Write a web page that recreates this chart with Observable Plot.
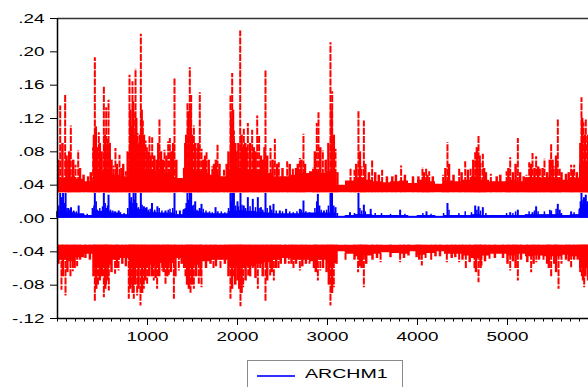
<!DOCTYPE html>
<html><head><meta charset="utf-8">
<script src="https://cdn.jsdelivr.net/npm/d3@7"></script>
<script src="https://cdn.jsdelivr.net/npm/@observablehq/plot@0.6"></script>
<style>
body{margin:0;background:#fff;font-family:"Liberation Sans",Arial,sans-serif;}
#chart{position:relative;width:588px;height:387px;overflow:hidden;background:#fff;}
#chart svg{display:block;}
.legend{position:absolute;left:247px;top:360px;width:156px;height:40px;border:1px solid #8a8a8a;box-sizing:border-box;background:#fff;}
.legend .ln{position:absolute;left:9px;top:14px;width:38px;height:1.5px;background:#3030ff;}
.legend .tx{position:absolute;left:57px;top:5px;font-size:13.5px;color:#000;transform:scaleX(1.45);transform-origin:left center;white-space:nowrap;}
</style></head><body><div id="chart"></div><script>
// observation bins (start of each 100-observation block)
const binStarts = d3.range(0, 5900, 100);
// dense-fill level of each series per 100-observation block
const upperBase = [.048,.05,.047,.044,.056,.056,.052,.05,.06,.058,.056,.054,.054,.048,.06,.056,.054,.052,.05,.058,.06,.058,.056,.054,.05,.05,.052,.054,.056,.054,.056,.04,.045,.048,.046,.044,.043,.044,.045,.042,.046,.044,.041,.045,.044,.046,.05,.046,.044,.044,.046,.044,.049,.048,.049,.048,.046,.048,.065];
const lowerBase = [-.05,-.052,-.047,-.043,-.056,-.056,-.05,-.048,-.06,-.06,-.056,-.054,-.054,-.048,-.06,-.056,-.052,-.05,-.05,-.058,-.06,-.058,-.055,-.053,-.05,-.048,-.05,-.05,-.052,-.05,-.054,-.04,-.043,-.046,-.045,-.043,-.041,-.042,-.043,-.04,-.044,-.042,-.04,-.043,-.043,-.045,-.048,-.045,-.043,-.043,-.045,-.043,-.046,-.045,-.046,-.046,-.044,-.046,-.06];
const blueBase = [.008,.007,.005,.003,.008,.008,.006,.004,.011,.01,.007,.006,.006,.004,.01,.008,.006,.005,.005,.008,.009,.008,.007,.006,.005,.005,.005,.006,.006,.006,.006,.002,.003,.004,.004,.003,.003,.003,.003,.002,.003,.003,.002,.003,.003,.003,.004,.003,.003,.003,.003,.003,.004,.004,.004,.004,.003,.004,.011];
// floors of the bands
const upperFloor = 0.031, lowerFloor = -0.032, blueFloor = 0.0008;
// prominent spikes [observation, value]
const upperSpikes = [[30,.135],[85,.149],[118,.069],[148,.111],[200,.064],[230,.081],[396,.085],[415,.193],[459,.103],[515,.158],[541,.133],[567,.142],[622,.063],[644,.084],[689,.076],[760,.056],[800,.172],[833,.164],[848,.127],[867,.179],[889,.102],[926,.221],[948,.117],[978,.093],[1022,.098],[1052,.097],[1133,.119],[1189,.082],[1230,.092],[1248,.096],[1300,.169],[1404,.061],[1444,.139],[1460,.13],[1470,.181],[1485,.149],[1515,.111],[1552,.084],[1581,.151],[1600,.083],[1656,.079],[1720,.062],[1778,.088],[1850,.058],[1922,.147],[1941,.174],[1960,.105],[2030,.225],[2070,.107],[2115,.114],[2163,.106],[2219,.123],[2240,.10],[2311,.177],[2367,.084],[2415,.095],[2459,.067],[2552,.068],[2615,.059],[2693,.072],[2733,.101],[2840,.061],[2881,.114],[2900,.127],[2948,.081],[3033,.211],[3052,.152],[3089,.083],[3256,.059],[3300,.058],[3344,.128],[3378,.062],[3404,.117],[3496,.070],[3607,.058],[3818,.063],[4055,.061],[4096,.060],[4130,.056],[4285,.052],[4333,.091],[4463,.059],[4530,.068],[4590,.06],[4641,.080],[4678,.100],[4700,.066],[4726,.077],[4815,.053],[4990,.056],[5030,.073],[5115,.096],[5211,.052],[5241,.067],[5278,.078],[5318,.074],[5360,.059],[5411,.071],[5485,.090],[5515,.062],[5559,.119],[5580,.06],[5707,.064],[5741,.064],[5800,.051],[5822,.145],[5844,.115],[5870,.119],[5885,.09]];
// smaller spikes that make up the ragged texture [observation, value]
const upperTexture = [[10,.07],[55,.09],[100,.075],[130,.08],[175,.07],[250,.06],[290,.052],[340,.05],[370,.055],[405,.1],[425,.11],[440,.085],[470,.09],[490,.08],[525,.1],[555,.095],[580,.09],[600,.07],[660,.065],[710,.06],[730,.065],[780,.08],[810,.13],[820,.11],[840,.14],[858,.1],[875,.12],[900,.09],[915,.1],[935,.13],[960,.1],[990,.085],[1010,.08],[1035,.075],[1075,.075],[1100,.07],[1120,.09],[1150,.08],[1170,.07],[1210,.075],[1265,.08],[1285,.09],[1320,.07],[1420,.09],[1430,.1],[1455,.12],[1478,.13],[1495,.1],[1530,.09],[1565,.09],[1620,.07],[1640,.075],[1680,.07],[1740,.065],[1760,.07],[1800,.065],[1880,.065],[1900,.08],[1930,.12],[1950,.13],[1975,.09],[1990,.08],[2010,.09],[2045,.1],[2060,.085],[2085,.09],[2100,.085],[2140,.09],[2180,.085],[2200,.08],[2260,.075],[2280,.07],[2300,.085],[2330,.075],[2390,.07],[2440,.065],[2500,.06],[2580,.065],[2650,.06],[2670,.065],[2710,.07],[2750,.065],[2860,.08],[2920,.085],[2980,.07],[3010,.09],[3045,.13],[3070,.1],[3110,.055],[3320,.065],[3360,.08],[3420,.065],[3460,.055],[3530,.055],[3570,.052],[3660,.05],[3720,.05],[3760,.052],[3860,.052],[3950,.05],[4010,.05],[4070,.055],[4110,.052],[4170,.05],[4310,.06],[4350,.065],[4400,.052],[4490,.055],[4560,.058],[4620,.07],[4660,.085],[4690,.075],[4740,.06],[4760,.055],[4880,.05],[4920,.052],[5010,.06],[5060,.055],[5090,.065],[5140,.055],[5180,.05],[5260,.065],[5300,.06],[5340,.062],[5390,.06],[5440,.055],[5470,.07],[5500,.07],[5540,.075],[5600,.055],[5650,.053],[5680,.055],[5725,.058],[5770,.055],[5810,.09],[5830,.12],[5860,.1],[5895,.1]];
const lowerSpikes = [[44,-.086],[89,-.093],[144,-.071],[170,-.064],[218,-.058],[415,-.100],[450,-.08],[515,-.095],[540,-.08],[570,-.087],[640,-.067],[678,-.063],[792,-.097],[822,-.083],[848,-.097],[885,-.093],[922,-.105],[959,-.085],[996,-.079],[1070,-.075],[1107,-.085],[1163,-.063],[1200,-.079],[1237,-.068],[1293,-.097],[1348,-.063],[1422,-.071],[1478,-.091],[1515,-.085],[1570,-.079],[1600,-.083],[1733,-.061],[1811,-.061],[1922,-.097],[1959,-.071],[2033,-.106],[2063,-.083],[2119,-.069],[2170,-.061],[2226,-.085],[2252,-.061],[2311,-.100],[2363,-.069],[2404,-.075],[2456,-.061],[2570,-.055],[2622,-.061],[2693,-.063],[2800,-.055],[2893,-.075],[2920,-.063],[3033,-.105],[3070,-.083],[3200,-.05],[3340,-.065],[3404,-.083],[3590,-.053],[3807,-.053],[4048,-.057],[4090,-.048],[4152,-.051],[4326,-.053],[4463,-.053],[4537,-.061],[4633,-.061],[4678,-.077],[4711,-.057],[4800,-.049],[5030,-.063],[5115,-.075],[5263,-.065],[5320,-.053],[5400,-.051],[5485,-.071],[5567,-.085],[5600,-.055],[5707,-.059],[5826,-.071],[5852,-.083],[5880,-.061]];
const lowerTexture = [[10,-.055],[60,-.07],[110,-.065],[190,-.06],[250,-.05],[310,-.048],[360,-.05],[400,-.07],[430,-.085],[470,-.075],[495,-.07],[530,-.085],[555,-.075],[600,-.065],[660,-.06],[720,-.055],[760,-.058],[805,-.085],[835,-.09],[860,-.08],[900,-.085],[940,-.09],[975,-.075],[1020,-.07],[1050,-.07],[1090,-.072],[1130,-.07],[1180,-.065],[1220,-.07],[1260,-.065],[1310,-.07],[1380,-.055],[1440,-.08],[1460,-.085],[1495,-.08],[1540,-.07],[1590,-.07],[1650,-.06],[1700,-.055],[1760,-.058],[1860,-.055],[1900,-.07],[1940,-.085],[1975,-.08],[2000,-.075],[2020,-.085],[2045,-.09],[2090,-.075],[2140,-.07],[2200,-.072],[2280,-.07],[2330,-.075],[2380,-.065],[2430,-.06],[2480,-.055],[2530,-.055],[2600,-.055],[2650,-.055],[2720,-.058],[2760,-.055],[2850,-.06],[2870,-.065],[2950,-.06],[2990,-.065],[3015,-.08],[3050,-.09],[3100,-.055],[3300,-.05],[3360,-.058],[3380,-.06],[3430,-.055],[3500,-.05],[3550,-.048],[3700,-.047],[3850,-.048],[3900,-.045],[3990,-.047],[4020,-.05],[4200,-.046],[4250,-.046],[4380,-.048],[4420,-.047],[4500,-.05],[4580,-.053],[4650,-.065],[4700,-.06],[4750,-.052],[4860,-.048],[4950,-.048],[5000,-.055],[5060,-.052],[5090,-.06],[5150,-.05],[5220,-.053],[5290,-.055],[5350,-.05],[5440,-.055],[5460,-.06],[5520,-.055],[5540,-.065],[5650,-.05],[5680,-.052],[5740,-.05],[5780,-.05],[5810,-.065],[5840,-.075],[5865,-.07],[5895,-.075]];
const blueSpikes = [[30,.03],[45,.025],[62,.03],[75,.018],[90,.03],[120,.012],[150,.013],[235,.015],[390,.012],[415,.03],[440,.01],[515,.03],[540,.012],[567,.028],[640,.008],[680,.009],[800,.03],[820,.025],[845,.03],[867,.03],[926,.03],[960,.014],[990,.013],[1050,.018],[1110,.014],[1200,.009],[1300,.03],[1360,.009],[1444,.03],[1470,.03],[1485,.03],[1530,.02],[1580,.012],[1600,.017],[1756,.013],[1780,.008],[1922,.03],[1941,.03],[1960,.03],[2000,.02],[2033,.03],[2070,.015],[2115,.025],[2170,.023],[2226,.025],[2260,.013],[2311,.03],[2363,.015],[2400,.017],[2470,.009],[2540,.011],[2693,.011],[2733,.021],[2893,.029],[2910,.015],[2960,.009],[3033,.03],[3050,.03],[3089,.013],[3250,.007],[3344,.03],[3404,.016],[3480,.011],[3807,.010],[4100,.008],[4333,.018],[4641,.015],[4678,.014],[4726,.013],[5030,.007],[5115,.01],[5278,.007],[5318,.014],[5485,.009],[5559,.017],[5580,.01],[5707,.008],[5822,.03],[5835,.017],[5850,.025],[5870,.028],[5890,.02]];
const blueTexture = [[15,.015],[55,.02],[105,.012],[135,.01],[180,.009],[210,.008],[260,.005],[330,.005],[405,.015],[430,.02],[470,.012],[500,.014],[530,.018],[555,.015],[590,.01],[615,.009],[700,.007],[740,.006],[780,.012],[810,.02],[830,.018],[855,.022],[880,.018],[900,.013],[940,.016],[975,.012],[1010,.01],[1030,.011],[1080,.01],[1130,.012],[1160,.009],[1230,.01],[1250,.011],[1280,.012],[1320,.009],[1400,.008],[1420,.012],[1430,.018],[1455,.022],[1500,.015],[1515,.016],[1550,.01],[1620,.011],[1650,.009],[1690,.008],[1720,.007],[1820,.008],[1860,.007],[1900,.012],[1930,.02],[1980,.015],[2010,.014],[2050,.016],[2090,.012],[2140,.014],[2200,.013],[2240,.012],[2280,.01],[2330,.012],[2380,.01],[2430,.009],[2500,.008],[2580,.008],[2620,.007],[2660,.008],[2710,.01],[2760,.008],[2800,.007],[2860,.012],[2880,.02],[2930,.01],[2990,.01],[3010,.015],[3070,.015],[3110,.006],[3300,.006],[3360,.012],[3380,.009],[3420,.008],[3530,.006],[3600,.006],[3700,.005],[3860,.005],[4060,.006],[4150,.005],[4290,.006],[4350,.01],[4460,.006],[4530,.008],[4600,.007],[4660,.01],[4700,.009],[4760,.006],[4990,.006],[5060,.006],[5090,.008],[5240,.008],[5300,.009],[5340,.008],[5410,.008],[5470,.01],[5540,.011],[5600,.006],[5740,.007],[5800,.008],[5810,.02],[5828,.022],[5860,.02],[5880,.018]];
const yTicks = [-.12,-.08,-.04,0,.04,.08,.12,.16,.20,.24];
const xTicks = [1000,2000,3000,4000,5000];
const legendLabel = "ARCHM1";

const RED = "#ff0000", BLUE = "#0000ff";
const XMAX = 5900;
function bandRows(base, floor){
  const rows = binStarts.map((x,i)=>({x, lo: floor, hi: base[i]}));
  rows.push({x: XMAX, lo: floor, hi: base[base.length-1]});
  return rows;
}
const fmt = d => { const s = Math.abs(d).toFixed(2).replace(/^0/, ""); return (d < 0 ? "-" : "") + s; };

const plot = Plot.plot({
  width: 588, height: 352,
  marginLeft: 57, marginRight: 0, marginTop: 18, marginBottom: 34,
  style: {fontFamily: "'Liberation Sans', Arial, sans-serif", fontSize: "13px", color: "#000", background: "#fff"},
  x: {domain: [0, XMAX], axis: null},
  y: {domain: [-0.12, 0.24], axis: null},
  marks: [
    Plot.areaY(bandRows(blueBase, blueFloor), {x: "x", y1: "lo", y2: "hi", curve: "step-after", fill: BLUE, stroke: BLUE, strokeWidth: 1}),
    Plot.ruleX(blueTexture, {x: d => d[0], y1: () => blueFloor, y2: d => d[1], stroke: BLUE, strokeWidth: 1.5}),
    Plot.ruleX(blueSpikes, {x: d => d[0], y1: () => blueFloor, y2: d => d[1], stroke: BLUE, strokeWidth: 2}),
    Plot.areaY(bandRows(upperBase, upperFloor), {x: "x", y1: "lo", y2: "hi", curve: "step-after", fill: RED}),
    Plot.ruleX(upperTexture, {x: d => d[0], y1: () => upperFloor, y2: d => d[1], stroke: RED, strokeWidth: 2.5}),
    Plot.ruleX(upperSpikes, {x: d => d[0], y1: () => upperFloor, y2: d => d[1], stroke: RED, strokeWidth: 2, strokeDasharray: "7,1.2"}),
    Plot.areaY(bandRows(lowerBase, lowerFloor), {x: "x", y1: "lo", y2: "hi", curve: "step-after", fill: RED}),
    Plot.ruleX(lowerTexture, {x: d => d[0], y1: () => lowerFloor, y2: d => d[1], stroke: RED, strokeWidth: 2.5}),
    Plot.ruleX(lowerSpikes, {x: d => d[0], y1: () => lowerFloor, y2: d => d[1], stroke: RED, strokeWidth: 2, strokeDasharray: "7,1.2"}),
    Plot.axisY(yTicks, {ticks: yTicks, tickFormat: fmt, tickSize: 7, tickPadding: 6, stroke: "#000", fill: "#000", label: null}),
    Plot.axisX({ticks: d3.range(0, XMAX + 1, 100), tickSize: 3.5, tickFormat: () => "", stroke: "#000", label: null}),
    Plot.axisX({ticks: xTicks, tickSize: 7, tickPadding: 6, tickFormat: d => String(d), stroke: "#000", fill: "#000", label: null}),
    Plot.ruleY([0.24], {stroke: "#333", strokeWidth: 1.5}),
    Plot.ruleY([-0.12], {stroke: "#000", strokeWidth: 1.5}),
    Plot.ruleX([0], {stroke: "#000", strokeWidth: 1.5})
  ]
});
const chart = document.getElementById("chart");
chart.appendChild(plot);
// the reference's lettering is horizontally stretched
plot.querySelectorAll("text").forEach(t => {
  const w = t.getComputedTextLength();
  if (w > 0) { t.setAttribute("textLength", (w * 1.45).toFixed(1)); t.setAttribute("lengthAdjust", "spacingAndGlyphs"); }
});
const lg = document.createElement("div");
lg.className = "legend";
lg.innerHTML = `<div class="ln"></div><div class="tx">${legendLabel}</div>`;
chart.appendChild(lg);
</script></body></html>
